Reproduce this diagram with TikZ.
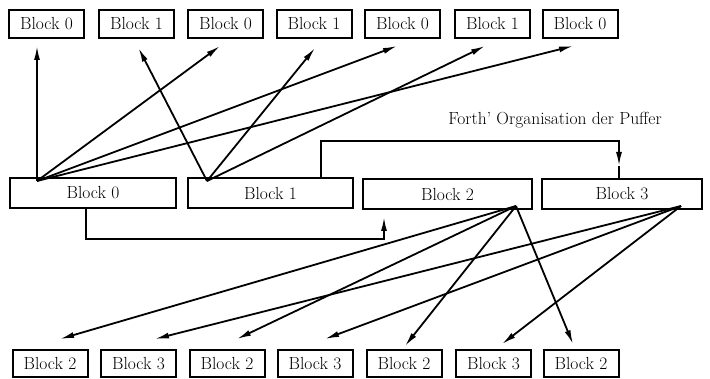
\documentclass[tikz,border=0pt]{standalone}
\usetikzlibrary{arrows.meta,calc}
\begin{document}
\begin{tikzpicture}[x=1pt,y=-1pt,
  blk/.style={draw,line width=2pt,minimum height=28pt,inner sep=0pt,font=\fontsize{17.5}{20}\selectfont},
  small/.style={blk,minimum width=75pt},
  conn/.style={line width=1.8pt,-{Latex[length=14pt,width=6pt]}},
  plain/.style={line width=1.8pt}]
\useasboundingbox (0,0) rectangle (710,379);
% top row
\node[small] (t1) at (46.5,24) {Block 0};
\node[small] (t2) at (136.5,24) {Block 1};
\node[small] (t3) at (225.5,24) {Block 0};
\node[small] (t4) at (314,24) {Block 1};
\node[small] (t5) at (402.5,24) {Block 0};
\node[small] (t6) at (492.5,24) {Block 1};
\node[small] (t7) at (580,24) {Block 0};
% middle row
\node[blk,minimum width=166pt,minimum height=30pt] (m0) at (93,193) {Block 0};
\node[blk,minimum width=165pt,minimum height=30pt] (m1) at (270.5,193) {Block 1};
\node[blk,minimum width=169pt,minimum height=30pt] (m2) at (447.5,194) {Block 2};
\node[blk,minimum width=160pt,minimum height=30pt] (m3) at (622,194) {Block 3};
% bottom row
\node[small,minimum height=27pt] (b1) at (50,363.5) {Block 2};
\node[small,minimum height=27pt] (b2) at (138.5,363.5) {Block 3};
\node[small,minimum height=27pt] (b3) at (227,363.5) {Block 2};
\node[small,minimum height=27pt] (b4) at (315,363.5) {Block 3};
\node[small,minimum height=27pt] (b5) at (404,363.5) {Block 2};
\node[small,minimum height=27pt] (b6) at (493.5,363.5) {Block 3};
\node[small,minimum height=27pt] (b7) at (581,363.5) {Block 2};
% label
\node[font=\fontsize{17.5}{20}\selectfont] (lab) at (555,120) {Forth' Organisation der Puffer};
% source points
\coordinate (s0) at ($(m0.north west)+(28,4)$);
\coordinate (s1) at ($(m1.north west)+(20,4)$);
\coordinate (s2) at ($(m2.south east)+(-17,-4)$);
\coordinate (s3) at ($(m3.south east)+(-22,-4)$);
% upward arrows
\draw[conn] (s0) -- ($(t1.south)+(-9.5,7)$);
\draw[conn] (s0) -- ($(t3.south)+(-5.5,7)$);
\draw[conn] (s0) -- ($(t5.south)+(-5.5,7)$);
\draw[conn] (s0) -- ($(t7.south)+(-7,7)$);
\draw[conn] (s1) -- ($(t2.south)+(2,9)$);
\draw[conn] (s1) -- ($(t4.south)+(1,9)$);
\draw[conn] (s1) -- ($(t6.south)+(-7.5,7)$);
% downward arrows
\draw[conn] (s2) -- ($(b1.north)+(10,-10)$);
\draw[conn] (s2) -- ($(b3.north)+(10,-10)$);
\draw[conn] (s2) -- ($(b5.north)+(1,-3)$);
\draw[conn] (s2) -- ($(b7.north)+(-8,-5)$);
\draw[conn] (s3) -- ($(b2.north)+(16.5,-10)$);
\draw[conn] (s3) -- ($(b4.north)+(10,-10)$);
\draw[conn] (s3) -- ($(b6.north)+(8.5,-5)$);
% organisation connectors
\coordinate (a3) at ($(m3.north)+(-3,-12)$);
\draw[conn] ($(m1.north west)+(134,0)$) |- ($(m3.north)+(-3,-37)$) -- (a3);
\draw[plain] (a3) -- (a3 |- m3.north);
\draw[conn] ($(m0.south west)+(77,0)$) |- ($(m2.south west)+(22,29)$) -- ($(m2.south west)+(22,7)$);
\end{tikzpicture}
\end{document}
